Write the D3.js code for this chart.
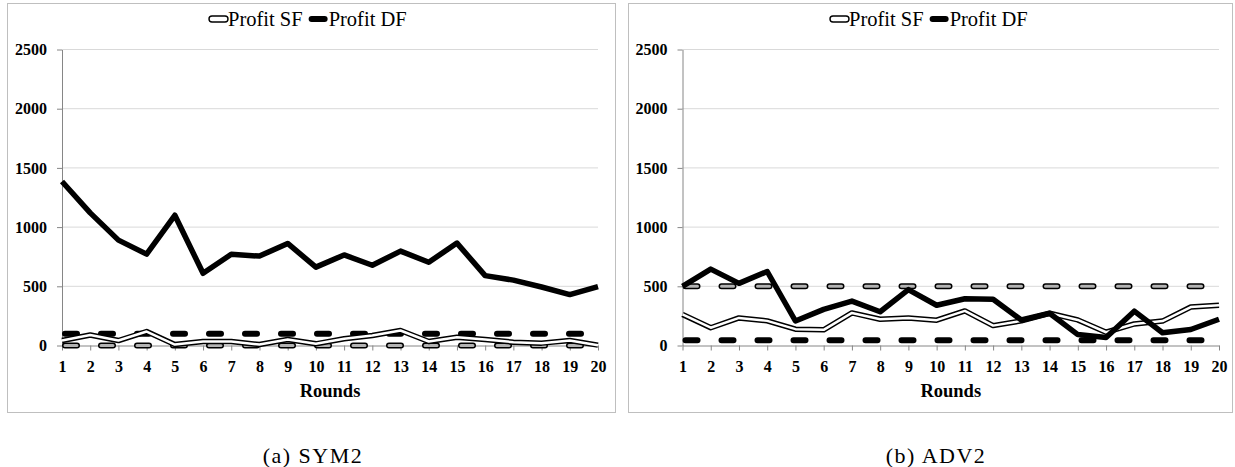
<!DOCTYPE html>
<html>
<head>
<meta charset="utf-8">
<script src="https://cdn.jsdelivr.net/npm/d3@7"></script>
<style>
  html, body { margin: 0; padding: 0; background: #fff; }
  svg { display: block; }
</style>
</head>
<body>
<svg id="chart" width="1235" height="467"></svg>
<script>
// categories and tick values
const rounds = [1, 2, 3, 4, 5, 6, 7, 8, 9, 10, 11, 12, 13, 14, 15, 16, 17, 18, 19, 20];
const yTicks = [0, 500, 1000, 1500, 2000, 2500];
const legendLabels = ['Profit SF', 'Profit DF'];

// (a) SYM2
const sym2ProfitSF = [42, 89, 42, 118, 8, 34, 34, 8, 50, 14, 57, 85, 127, 34, 70, 51, 28, 20, 42, 3];
const sym2ProfitDF = [1385, 1120, 890, 772, 1100, 610, 770, 755, 862, 662, 765, 678, 797, 703, 865, 590, 552, 494, 430, 498];
const sym2EqSF = 0;
const sym2EqDF = 100;

// (b) ADV2
const adv2ProfitSF = [262, 150, 233, 208, 138, 132, 275, 222, 233, 214, 292, 168, 208, 272, 216, 112, 182, 206, 325, 340];
const adv2ProfitDF = [500, 645, 525, 625, 207, 305, 375, 285, 472, 340, 395, 390, 215, 272, 92, 68, 290, 108, 135, 222];
const adv2EqSF = 500;
const adv2EqDF = 45;

const serif = 'Liberation Serif';
const svg = d3.select('#chart');

const panels = [
  { box: [7, 3, 615, 412], xr: [62, 598], sf: sym2ProfitSF, df: sym2ProfitDF, eqSF: sym2EqSF, eqDF: sym2EqDF, caption: '(a) SYM2', capX: 313 },
  { box: [628, 3, 1232, 412], xr: [682.5, 1219], sf: adv2ProfitSF, df: adv2ProfitDF, eqSF: adv2EqSF, eqDF: adv2EqDF, caption: '(b) ADV2', capX: 936 }
];

panels.forEach(p => {
  const [bx0, by0, bx1, by1] = p.box;
  const g = svg.append('g');

  // panel border
  g.append('rect')
    .attr('x', bx0 + 0.5).attr('y', by0 + 0.5)
    .attr('width', bx1 - bx0).attr('height', by1 - by0)
    .attr('fill', '#fff').attr('stroke', '#bfbfbf').attr('stroke-width', 1);

  const x = d3.scalePoint().domain(rounds).range(p.xr);
  const y = d3.scaleLinear().domain([0, 2500]).range([345.5, 49.5]);

  // gridlines
  g.append('g').selectAll('line')
    .data(yTicks.filter(t => t > 0))
    .join('line')
    .attr('x1', p.xr[0]).attr('x2', p.xr[1])
    .attr('y1', d => y(d)).attr('y2', d => y(d))
    .attr('stroke', '#d9d9d9').attr('stroke-width', 1);

  // y axis
  const yAxis = g.append('g')
    .attr('transform', `translate(${p.xr[0]},0)`)
    .call(d3.axisLeft(y).tickValues(yTicks).tickFormat(d3.format('d'))
      .tickSize(5).tickSizeOuter(0).tickPadding(10));

  // x axis
  const xAxis = g.append('g')
    .attr('transform', `translate(0,${y(0)})`)
    .call(d3.axisBottom(x).tickSize(5).tickSizeOuter(0).tickPadding(10));

  [yAxis, xAxis].forEach(a => {
    a.attr('font-family', serif).attr('font-size', 16).attr('font-weight', 'bold');
    a.select('.domain').attr('stroke', '#868686');
    a.selectAll('.tick line').attr('stroke', '#868686');
    a.selectAll('.tick text').attr('fill', '#000');
  });

  g.append('text')
    .attr('x', (p.xr[0] + p.xr[1]) / 2).attr('y', 397)
    .attr('text-anchor', 'middle')
    .attr('font-family', serif).attr('font-weight', 'bold').attr('font-size', 18.5)
    .text('Rounds');

  const line = d3.line().x((d, i) => x(rounds[i])).y(d => y(d));
  const flat = v => line(rounds.map(() => v));

  // benchmark lines (dashed)
  g.append('path').attr('d', flat(p.eqSF))
    .attr('fill', 'none').attr('stroke', '#000').attr('stroke-width', 6)
    .attr('stroke-linecap', 'round').attr('stroke-dasharray', '12 24').attr('stroke-dashoffset', 33);
  g.append('path').attr('d', flat(p.eqSF))
    .attr('fill', 'none').attr('stroke', '#b3b3b3').attr('stroke-width', 3)
    .attr('stroke-linecap', 'round').attr('stroke-dasharray', '12 24').attr('stroke-dashoffset', 33);
  g.append('path').attr('d', flat(p.eqDF))
    .attr('fill', 'none').attr('stroke', '#000').attr('stroke-width', 6)
    .attr('stroke-linecap', 'round').attr('stroke-dasharray', '12 24').attr('stroke-dashoffset', 33);

  // Profit SF (double line)
  g.append('path').attr('d', line(p.sf))
    .attr('fill', 'none').attr('stroke', '#000').attr('stroke-width', 5.5)
    .attr('stroke-linejoin', 'round');
  g.append('path').attr('d', line(p.sf))
    .attr('fill', 'none').attr('stroke', '#fff').attr('stroke-width', 2.5)
    .attr('stroke-linejoin', 'round');

  // Profit DF (thick)
  g.append('path').attr('d', line(p.df))
    .attr('fill', 'none').attr('stroke', '#000').attr('stroke-width', 5.5)
    .attr('stroke-linejoin', 'round');

  // legend
  const lg = g.append('g').attr('font-family', serif).attr('font-size', 20.5);
  let lx = bx0 + 202;
  lg.append('rect')
    .attr('x', lx).attr('y', 16).attr('width', 19).attr('height', 6).attr('rx', 3)
    .attr('fill', '#fff').attr('stroke', '#000').attr('stroke-width', 1.4);
  lx += 19;
  const t1 = lg.append('text')
    .attr('x', lx).attr('y', 26)
    .text(legendLabels[0]);
  lx += t1.node().getComputedTextLength() + 9;
  lg.append('line')
    .attr('x1', lx).attr('x2', lx + 13).attr('y1', 19).attr('y2', 19)
    .attr('stroke', '#000').attr('stroke-width', 6).attr('stroke-linecap', 'round');
  lx += 17;
  lg.append('text')
    .attr('x', lx).attr('y', 26)
    .text(legendLabels[1]);

  // caption
  svg.append('text')
    .attr('x', p.capX).attr('y', 463)
    .attr('text-anchor', 'middle')
    .attr('font-family', serif).attr('font-size', 22).attr('letter-spacing', 1.5)
    .text(p.caption);
});
</script>
</body>
</html>
